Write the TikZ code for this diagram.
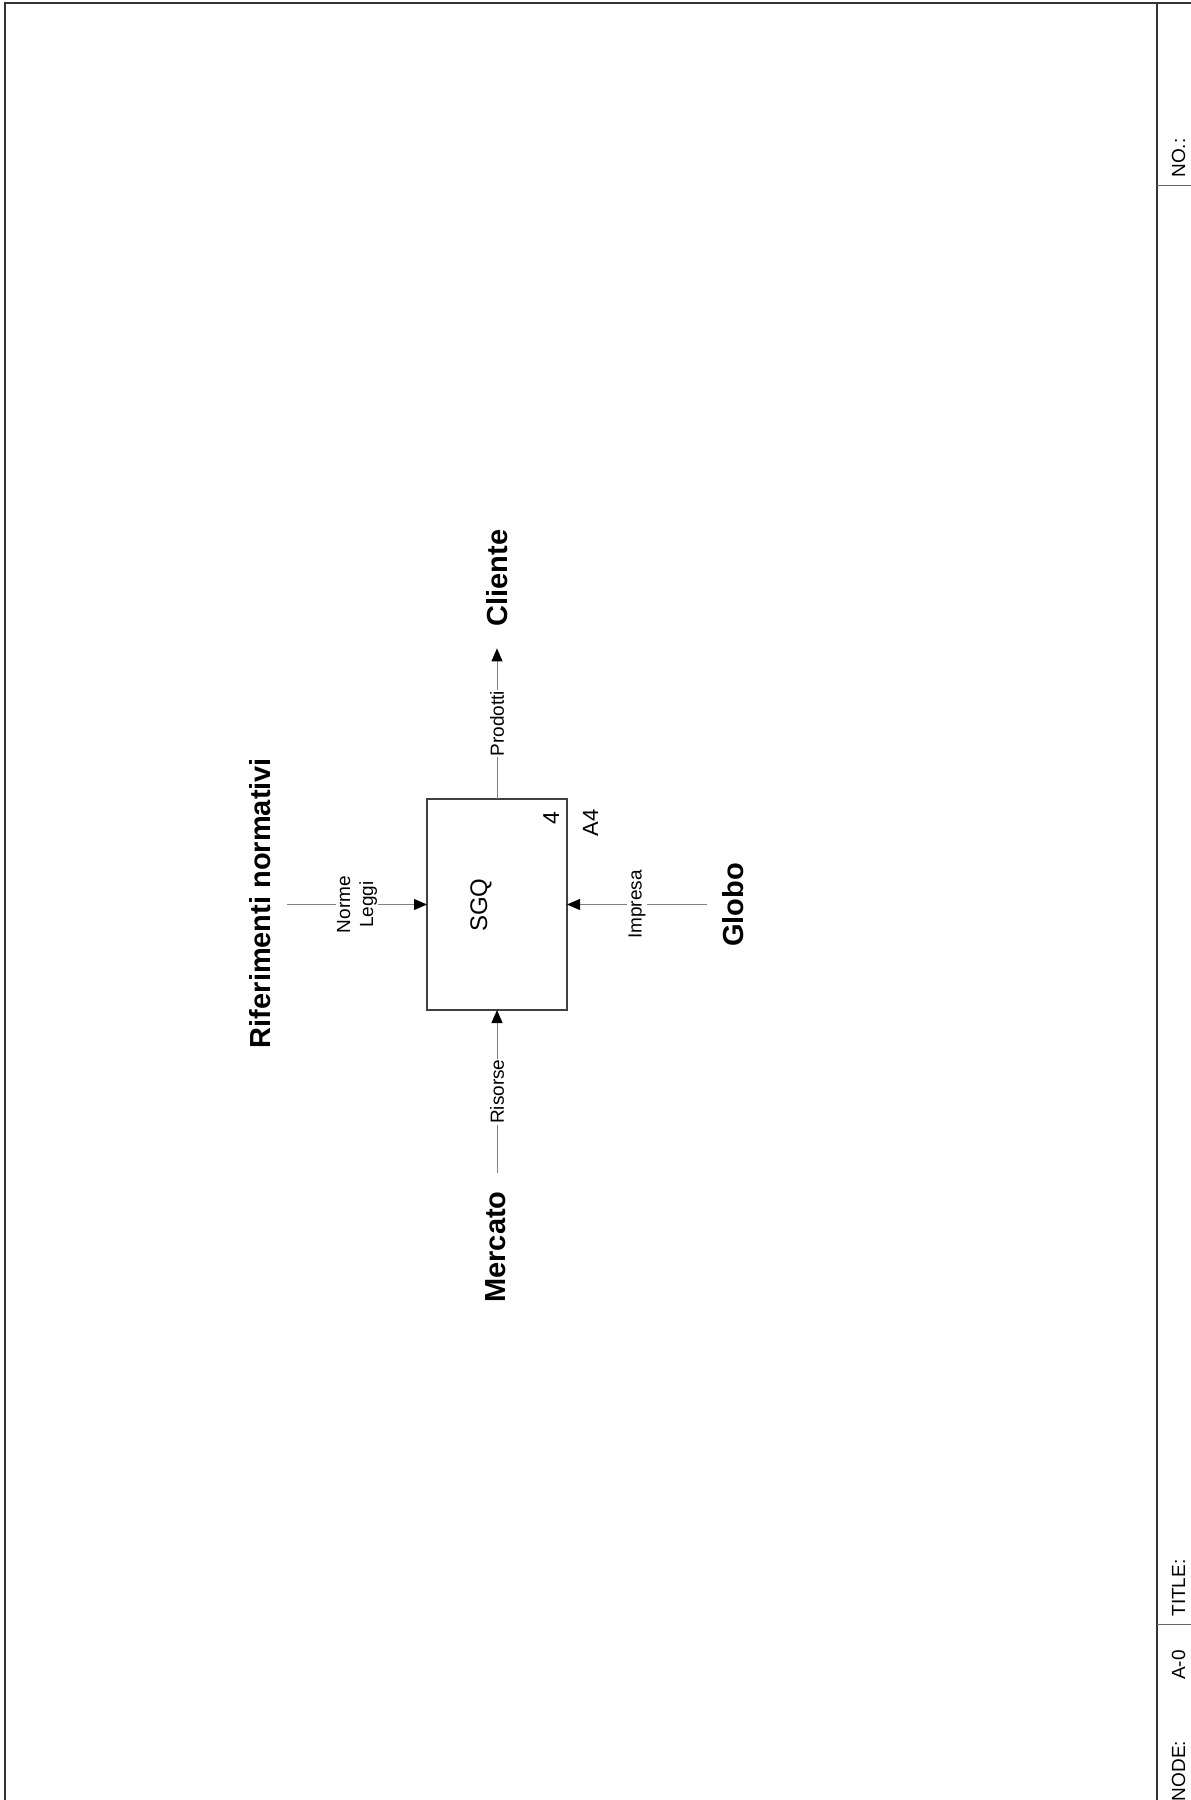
\documentclass[tikz,border=0pt]{standalone}
\usepackage{fontspec}
\setmainfont{Liberation Sans}
\usetikzlibrary{arrows.meta}

\begin{document}
\begin{tikzpicture}[x=1pt,y=-1pt,
  frameline/.style={line width=1.4pt, draw=black!80},
  thinline/.style={line width=1pt, draw=black!60},
  conn/.style={line width=1pt, draw=black!50},
  tip/.style={-{Triangle[length=13pt,width=11pt,color=black]}},
  actbox/.style={draw=black!75, line width=1.2pt, minimum width=140pt,
                 minimum height=211pt, inner sep=0pt, outer sep=0pt},
  ext/.style={rotate=90, inner sep=0pt, anchor=base,
              font=\fontsize{29}{34}\selectfont\bfseries},
  lbl/.style={rotate=90, fill=white, inner sep=1pt, align=center,
              font=\fontsize{19}{23}\selectfont},
  txt/.style={rotate=90, inner sep=0pt, anchor=base},
  blocktxt/.style={txt, font=\fontsize{19}{23}\selectfont}
]
\useasboundingbox (0,0) rectangle (1191,1800);

% sheet frame and title block
\draw[frameline] (5,1800) -- (5,3) -- (1191,3);
\draw[frameline] (1157,3) -- (1157,1800);
\draw[thinline] (1157,185) -- (1191,185);
\draw[thinline] (1157,1624) -- (1191,1624);
\node[blocktxt] (no)    at (1185,158)  {NO.:};
\node[blocktxt] (title) at (1185,1588) {TITLE:};
\node[blocktxt] (a0)    at (1185,1665) {A-0};
\node[blocktxt] (node)  at (1185,1771) {NODE:};

% activity box
\node[actbox] (box) at (497,904.5) {};
\node[txt, font=\fontsize{24}{28}\selectfont] (sgq) at (487,905) {SGQ};
\node[txt, font=\fontsize{23}{27}\selectfont] (num) at (559,818) {4};
\node[txt, font=\fontsize{22}{26}\selectfont] (ref) at (598,823) {A4};

% external sources and destinations
\node[ext, outer xsep=22pt] (cliente) at (507,578) {Cliente};
\node[ext, outer ysep=17pt] (rif) at (270,903) {Riferimenti normativi};
\node[ext, outer xsep=18pt] (mercato) at (505,1247) {Mercato};
\node[ext, outer ysep=15pt] (globo) at (743,905) {Globo};

% arrows
\draw[conn,tip] (box.north) -- node[lbl] {Prodotti} (box.north |- cliente.west);
\draw[conn,tip] (box.south |- mercato.east) -- node[lbl] {Risorse} (box.south);
\draw[conn,tip] (rif.south |- box.west) -- node[lbl] {Norme\\Leggi} (box.west);
\draw[conn,tip] (globo.north |- box.east) -- node[lbl] {Impresa} (box.east);
\end{tikzpicture}
\end{document}
